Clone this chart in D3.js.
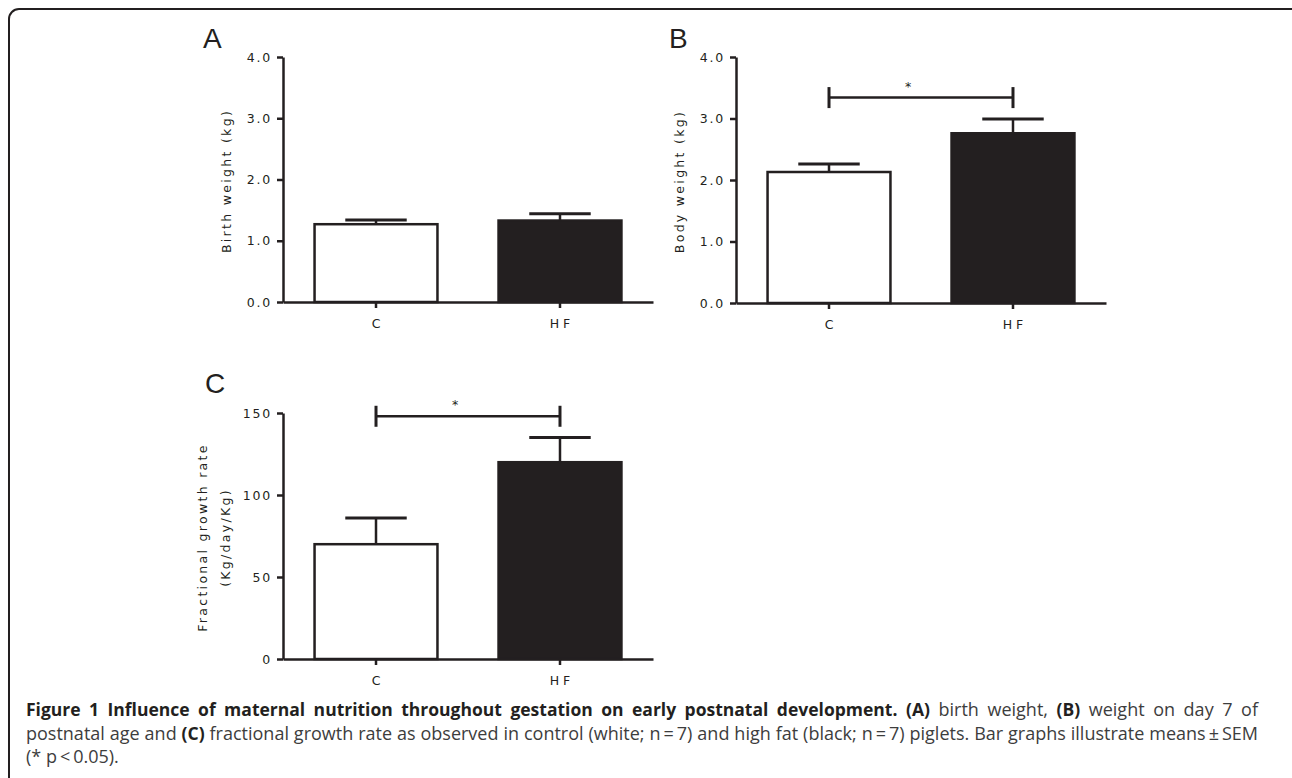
<!DOCTYPE html>
<html>
<head>
<meta charset="utf-8">
<script src="https://cdn.jsdelivr.net/npm/d3@7"></script>
<style>
  html, body { margin: 0; padding: 0; background: #fff; }
  svg { display: block; }
  .tick text { font-family: "DejaVu Sans", Verdana, sans-serif; font-size: 12.5px; fill: #231f20; }
</style>
</head>
<body>
<svg id="chart"></svg>
<script>
document.addEventListener("DOMContentLoaded", function () {
  // DATA
  const groups = ["C", "HF"];
  const barFills = ["#ffffff", "#231f20"];

  const birthMean = [1.27, 1.33];
  const birthSem = [0.07, 0.11];

  const bodyMean = [2.13, 2.76];
  const bodySem = [0.13, 0.23];

  const growthMean = [70, 120];
  const growthSem = [16, 15];

  const weightTicks = [0, 1, 2, 3, 4];
  const growthTicks = [0, 50, 100, 150];

  const bodyBracket = 3.34;
  const growthBracket = 148;

  const width = 1292;
  const height = 778;
  const ink = "#231f20";
  const font = '"DejaVu Sans", Verdana, sans-serif';

  const svg = d3.select("#chart").attr("width", width).attr("height", height);

  // frame
  svg
    .append("rect")
    .attr("x", 9)
    .attr("y", 9)
    .attr("width", 1292)
    .attr("height", 820)
    .attr("rx", 10)
    .attr("fill", "none")
    .attr("stroke", ink)
    .attr("stroke-width", 2);

  const panels = [
    {
      letter: "A", x: 283, y: 57, h: 245, letterDx: -80, letterY: -9,
      mean: birthMean, sem: birthSem, domain: [0, 4], ticks: weightTicks,
      fmt: d3.format(".1f"), label: ["Birth weight (kg)"], bracket: null,
    },
    {
      letter: "B", x: 736, y: 57, h: 246, letterDx: -67, letterY: -9,
      mean: bodyMean, sem: bodySem, domain: [0, 4], ticks: weightTicks,
      fmt: d3.format(".1f"), label: ["Body weight (kg)"], bracket: bodyBracket,
    },
    {
      letter: "C", x: 283, y: 413, h: 246, letterDx: -78, letterY: -20,
      mean: growthMean, sem: growthSem, domain: [0, 150], ticks: growthTicks,
      fmt: d3.format("d"), label: ["Fractional growth rate", "(Kg/day/Kg)"],
      bracket: growthBracket,
    },
  ];

  const plotW = 370;

  panels.forEach((p) => {
    const g = svg.append("g").attr("transform", `translate(${p.x},${p.y})`);

    const x = d3
      .scaleBand()
      .domain(groups)
      .range([0, plotW])
      .paddingInner(0.332)
      .paddingOuter(0.1715);
    const y = d3.scaleLinear().domain(p.domain).range([p.h, 0]);
    const bw = x.bandwidth();
    const cx = (d) => x(d) + bw / 2;

    const rows = groups.map((k, i) => ({ k, m: p.mean[i], s: p.sem[i], fill: barFills[i] }));

    // bars
    g.selectAll("rect.bar")
      .data(rows)
      .enter()
      .append("rect")
      .attr("class", "bar")
      .attr("x", (d) => x(d.k))
      .attr("y", (d) => y(d.m))
      .attr("width", bw)
      .attr("height", (d) => p.h - y(d.m))
      .attr("fill", (d) => d.fill)
      .attr("stroke", ink)
      .attr("stroke-width", 2.5);

    // error bars (upper only)
    g.selectAll("line.err")
      .data(rows)
      .enter()
      .append("line")
      .attr("x1", (d) => cx(d.k))
      .attr("x2", (d) => cx(d.k))
      .attr("y1", (d) => y(d.m))
      .attr("y2", (d) => y(d.m + d.s))
      .attr("stroke", ink)
      .attr("stroke-width", 2.5);
    g.selectAll("line.cap")
      .data(rows)
      .enter()
      .append("line")
      .attr("x1", (d) => cx(d.k) - bw / 4)
      .attr("x2", (d) => cx(d.k) + bw / 4)
      .attr("y1", (d) => y(d.m + d.s))
      .attr("y2", (d) => y(d.m + d.s))
      .attr("stroke", ink)
      .attr("stroke-width", 3);

    // axes
    const yAxis = g
      .append("g")
      .style("color", ink)
      .call(
        d3.axisLeft(y).tickValues(p.ticks).tickFormat(p.fmt)
          .tickSize(6).tickSizeOuter(0).tickPadding(5)
      );
    yAxis.selectAll("text").style("letter-spacing", "1.8px");

    const xAxis = g
      .append("g")
      .attr("transform", `translate(0,${p.h})`)
      .style("color", ink)
      .call(d3.axisBottom(x).tickSize(6).tickSizeOuter(0).tickPadding(11));
    xAxis.selectAll("text").style("letter-spacing", "4px").attr("dx", 2);

    g.selectAll(".domain, .tick line").attr("stroke-width", 2.5);

    // y label
    const labelX = p.label.length === 1 ? [-52] : [-76, -53];
    p.label.forEach((t, i) => {
      g.append("text")
        .attr("transform", `translate(${labelX[i]},${p.h / 2 + 1.5}) rotate(-90)`)
        .attr("text-anchor", "middle")
        .style("font-family", font)
        .style("font-size", "12.5px")
        .style("letter-spacing", "2.3px")
        .attr("fill", ink)
        .text(t);
    });

    // panel letter
    g.append("text")
      .attr("x", p.letterDx)
      .attr("y", p.letterY)
      .style("font-family", '"Liberation Sans", Arial, sans-serif')
      .style("font-size", "28px")
      .attr("fill", ink)
      .text(p.letter);

    // significance bracket
    if (p.bracket !== null) {
      const by = y(p.bracket);
      const x1 = cx(groups[0]);
      const x2 = cx(groups[1]);
      g.append("line")
        .attr("x1", x1).attr("x2", x2).attr("y1", by).attr("y2", by)
        .attr("stroke", ink).attr("stroke-width", 2.5);
      [x1, x2].forEach((bx) => {
        g.append("line")
          .attr("x1", bx).attr("x2", bx).attr("y1", by - 10.5).attr("y2", by + 10.5)
          .attr("stroke", ink).attr("stroke-width", 3);
      });
      g.append("text")
        .attr("x", (x1 + x2) / 2 - 13)
        .attr("y", by - 7)
        .attr("text-anchor", "middle")
        .style("font-family", font)
        .style("font-size", "12.5px")
        .attr("fill", ink)
        .text("*");
    }
  });

  // CAPTION
  const captionLines = [
    [
      ["b", "Figure 1 Influence of maternal nutrition throughout gestation on early postnatal development."],
      ["r", " "], ["b", "(A)"], ["r", " birth weight, "], ["b", "(B)"], ["r", " weight on day 7 of"],
    ],
    [
      ["r", "postnatal age and "], ["b", "(C)"],
      ["r", " fractional growth rate as observed in control (white; n\u2009=\u20097) and high fat (black; n\u2009=\u20097) piglets. Bar graphs illustrate means\u2009\u00b1\u2009SEM"],
    ],
    [["r", "(* p\u2009<\u20090.05)."]],
  ];
  const capX = 26;
  const capW = 1232;
  const capY = [716, 740, 763];

  captionLines.forEach((parts, i) => {
    const t = svg
      .append("text")
      .attr("x", capX)
      .attr("y", capY[i])
      .style("font-family", '"Open Sans", "Noto Sans", sans-serif');
    parts.forEach(([w, s]) => {
      t.append("tspan")
        .attr("font-weight", w === "b" ? 700 : 400)
        .style("font-size", w === "b" ? "17.5px" : "18px")
        .attr("fill", w === "b" ? ink : "#3d3d3d")
        .text(s);
    });
    if (i < 2) {
      const len = t.node().getComputedTextLength();
      const spaces = parts.map((d) => d[1]).join("").split(" ").length - 1;
      t.style("word-spacing", `${(capW - len) / spaces}px`);
    }
  });
});
</script>
</body>
</html>
